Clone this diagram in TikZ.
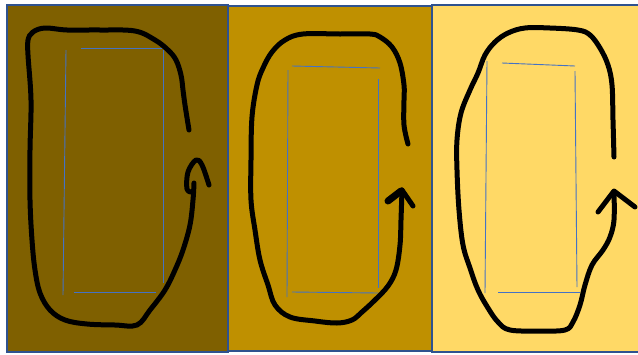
\documentclass[tikz,border=0pt]{standalone}
\usepackage{tikz}
\definecolor{darkgold}{HTML}{7F6000}
\definecolor{midgold}{HTML}{BF9000}
\definecolor{lightgold}{HTML}{FFD966}
\definecolor{frameblue}{HTML}{2F528F}
\definecolor{lineblue}{HTML}{4472C4}

\begin{document}
\begin{tikzpicture}[x=1pt, y=-1pt,
  panel/.style={draw=frameblue, line width=2pt, fill=#1},
  guide/.style={draw=lineblue, line width=0.9pt},
  loop/.style={draw=black, line width=5pt, line cap=round, line join=round}
]
  \useasboundingbox (0,0) rectangle (638,354);
  \clip (0,0) rectangle (638,354);
  \fill[white] (0,0) rectangle (638,354);

  % Panels
  \draw[panel=darkgold]  (7,5) rectangle (228,352);
  \draw[panel=midgold]   (228,6) rectangle (432,351);
  \draw[panel=lightgold] (432,5) rectangle (645,352);

  % Thin guide rectangles
  \draw[guide] (66,50) -- (63,295);
  \draw[guide] (81,48) -- (162,48);
  \draw[guide] (163,50) -- (163,283);
  \draw[guide] (74,292) -- (156,292);

  \draw[guide] (288,70) -- (287,297);
  \draw[guide] (292,66) -- (380,68);
  \draw[guide] (378,79) -- (378,288);
  \draw[guide] (292,292) -- (378,293);

  \draw[guide] (487,61) -- (485,293);
  \draw[guide] (502,63) -- (575,66);
  \draw[guide] (575,71) -- (577,287);
  \draw[guide] (498,292) -- (580,292);

  % Loop 1
  \draw[loop] plot[smooth, tension=0.6] coordinates {(189,130) (185,105)
    (183,90) (181,75) (176,60) (168,50) (155,40) (135,31) (100,30) (67,30)
    (45,28) (33,32) (28,40) (28,55) (31,100) (30,150) (30,200) (32,240)
    (35,270) (40,293) (50,310) (65,320) (87,324) (115,325) (137,325)
    (150,310) (165,290) (175,270) (183,250) (190,225) (193,200) (194,183)};
  \draw[loop] plot[smooth, tension=0.6] coordinates {(192,192) (187,189)
    (188,172) (196,160) (202,165) (209,185)};

  % Loop 2
  \draw[loop] plot[smooth, tension=0.6] coordinates {(408,144) (404,125)
    (404,100) (404,85) (400,63) (392,47) (380,37) (370,34) (340,34)
    (303,34) (285,40) (272,52) (263,68) (257,85) (252,117) (251,160)
    (251,200) (255,230) (260,260) (268,285) (275,305) (290,317) (315,321)
    (337,323) (352,320) (362,312) (375,300) (388,286) (396,270) (400,245)
    (401,220) (402,190)};
  \draw[loop, line width=7pt] (401,191) -- (388,201);
  \draw[loop] (402,190) -- (413,206);

  % Loop 3
  \draw[loop] plot[smooth, tension=0.6] coordinates {(614,157) (613,120)
    (612,85) (608,65) (600,48) (590,35) (578,30) (550,28) (525,28)
    (508,33) (495,42) (485,55) (478,73) (470,90) (461,113) (457,140)
    (457,170) (459,210) (463,245) (470,268) (478,290) (488,308) (498,322)
    (510,330) (540,331) (565,330) (573,322) (580,305) (585,285) (592,265)
    (603,250) (610,237) (614,220) (614,192)};
  \draw[loop] (598,212) -- (614,191) -- (635,207);
\end{tikzpicture}
\end{document}
